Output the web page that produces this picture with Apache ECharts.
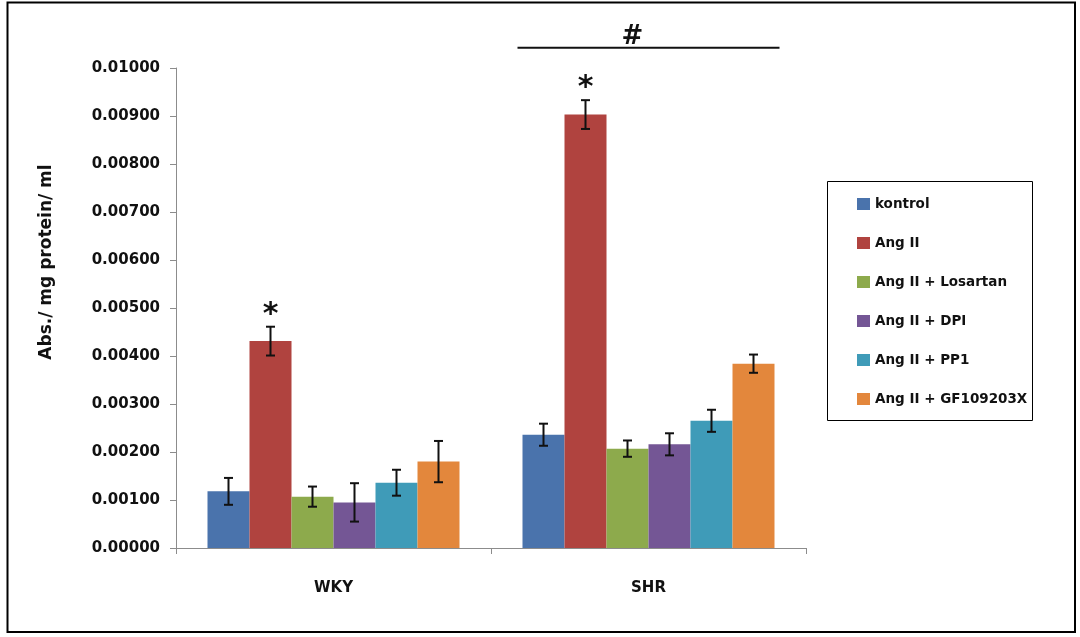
<!DOCTYPE html>
<html>
<head>
<meta charset="utf-8">
<script src="https://cdn.jsdelivr.net/npm/echarts@6/dist/echarts.min.js"></script>
<style>
  html, body { margin: 0; padding: 0; background: #ffffff; }
  #chart { width: 1080px; height: 637px; }
</style>
</head>
<body>
<div id="chart"></div>
<script>
// ---------- data ----------
const categories = ['WKY', 'SHR'];
const seriesNames = ['kontrol', 'Ang II', 'Ang II + Losartan', 'Ang II + DPI', 'Ang II + PP1', 'Ang II + GF109203X'];
const kontrol     = [0.00118, 0.00236];
const angII       = [0.00431, 0.00903];
const losartan    = [0.00107, 0.00207];
const dpi         = [0.00095, 0.00216];
const pp1         = [0.00136, 0.00265];
const gf109203x   = [0.00180, 0.00384];
const kontrolErr   = [0.00028, 0.00023];
const angIIErr     = [0.00030, 0.00030];
const losartanErr  = [0.00021, 0.00017];
const dpiErr       = [0.00040, 0.00023];
const pp1Err       = [0.00027, 0.00023];
const gf109203xErr = [0.00043, 0.00019];
const yTicks = { min: 0, max: 0.01, interval: 0.001 };
// significance marks: '*' above series 1 (Ang II) in both groups, '#' over SHR group
const starMarks = [[0, 1], [1, 1]];
const hashMark = { cat: 1, level: 0.01042 };

const values = [kontrol, angII, losartan, dpi, pp1, gf109203x];
const errors = [kontrolErr, angIIErr, losartanErr, dpiErr, pp1Err, gf109203xErr];
const colors = ['#4A73AC', '#B0433F', '#8DAA4C', '#745695', '#3F9BB8', '#E3873C'];

const CAT_GAP = 0.20;
const FONT = 'DejaVu Sans';

function barX(api, cat, s) {
  const catW = api.size([1, 0])[0];
  const groupW = catW * (1 - CAT_GAP);
  const barW = groupW / values.length;
  const cx = api.coord([cat, 0])[0];
  return { x: cx - groupW / 2 + (s + 0.5) * barW, groupW: groupW, cx: cx };
}

const errData = [];
values.forEach((arr, s) => arr.forEach((v, c) => errData.push([c, v, errors[s][c], s])));

const barSeries = values.map((arr, s) => ({
  name: seriesNames[s],
  type: 'bar',
  data: arr,
  itemStyle: { color: colors[s] },
  barGap: '0%',
  barCategoryGap: (CAT_GAP * 100) + '%',
  silent: true
}));

const option = {
  backgroundColor: '#ffffff',
  animation: false,
  grid: { left: 176, right: 274, top: 68, bottom: 89, containLabel: false },
  legend: {
    orient: 'vertical',
    left: 857, top: 197,
    padding: 0,
    itemWidth: 13, itemHeight: 12, itemGap: 25,
    icon: 'rect',
    textStyle: { fontFamily: FONT, fontWeight: 'bold', fontSize: 13.5, color: '#111', lineHeight: 14 },
    data: seriesNames
  },
  xAxis: {
    type: 'category',
    data: categories,
    axisLine: { lineStyle: { color: '#8c8c8c', width: 1 } },
    axisTick: { show: true, length: 6, alignWithLabel: false, lineStyle: { color: '#8c8c8c' } },
    axisLabel: { margin: 33, fontFamily: FONT, fontWeight: 'bold', fontSize: 15, color: '#111' },
    splitLine: { show: false }
  },
  yAxis: {
    type: 'value',
    min: yTicks.min, max: yTicks.max, interval: yTicks.interval,
    name: 'Abs./ mg protein/ ml',
    nameLocation: 'middle',
    nameRotate: 90,
    nameGap: 121,
    nameTextStyle: { fontFamily: FONT, fontWeight: 'bold', fontSize: 17, color: '#111', padding: [0, 0, 0, 92] },
    axisLine: { show: true, lineStyle: { color: '#8c8c8c', width: 1 } },
    axisTick: { show: true, length: 6, lineStyle: { color: '#8c8c8c' } },
    axisLabel: { margin: 16, fontFamily: FONT, fontWeight: 'bold', fontSize: 15, color: '#111',
                 formatter: v => v.toFixed(5) },
    splitLine: { show: false }
  },
  graphic: [{
    type: 'rect', silent: true, z: 0,
    shape: { x: 7.5, y: 2.5, width: 1067.5, height: 629.5 },
    style: { fill: 'none', stroke: '#000', lineWidth: 2 }
  }, {
    type: 'rect', silent: true, z: 0,
    shape: { x: 827.5, y: 181.5, width: 205, height: 239 },
    style: { fill: 'none', stroke: '#000', lineWidth: 1 }
  }],
  series: barSeries.concat([{
    type: 'custom',
    name: 'errors',
    data: errData,
    encode: { x: 0, y: 1 },
    z: 10, silent: true, clip: false,
    renderItem: function (params, api) {
      const c = api.value(0), v = api.value(1), e = api.value(2), s = api.value(3);
      const x = barX(api, c, s).x;
      const yTop = api.coord([c, v + e])[1];
      const yBot = api.coord([c, v - e])[1];
      const cap = 4.5;
      const st = { stroke: '#111', lineWidth: 2 };
      return { type: 'group', children: [
        { type: 'line', shape: { x1: x, y1: yTop, x2: x, y2: yBot }, style: st },
        { type: 'line', shape: { x1: x - cap, y1: yTop, x2: x + cap, y2: yTop }, style: st },
        { type: 'line', shape: { x1: x - cap, y1: yBot, x2: x + cap, y2: yBot }, style: st }
      ]};
    }
  }, {
    type: 'custom',
    name: 'stars',
    data: starMarks,
    encode: { x: 0 },
    z: 11, silent: true, clip: false,
    renderItem: function (params, api) {
      const c = api.value(0), s = api.value(1);
      const x = barX(api, c, s).x;
      const top = api.coord([c, values[s][c] + errors[s][c]])[1];
      return { type: 'text', style: { text: '*', x: x, y: top + 3, align: 'center', verticalAlign: 'bottom',
               font: 'bold 30px ' + FONT, fill: '#111' } };
    }
  }, {
    type: 'custom',
    name: 'hash',
    data: [[hashMark.cat, hashMark.level]],
    encode: { x: 0, y: 1 },
    z: 11, silent: true, clip: false,
    renderItem: function (params, api) {
      const c = api.value(0), lvl = api.value(1);
      const g = barX(api, c, 0);
      const y = api.coord([c, lvl])[1];
      const half = g.groupW / 2 + 5;
      return { type: 'group', children: [
        { type: 'line', shape: { x1: g.cx - half, y1: y, x2: g.cx + half, y2: y }, style: { stroke: '#111', lineWidth: 2 } },
        { type: 'text', style: { text: '#', x: g.cx - 16, y: y + 2, align: 'center', verticalAlign: 'bottom',
          font: 'bold 26px ' + FONT, fill: '#111' } }
      ]};
    }
  }])
};

const chart = echarts.init(document.getElementById('chart'), null, { renderer: 'canvas' });
chart.setOption(option);
</script>
</body>
</html>
